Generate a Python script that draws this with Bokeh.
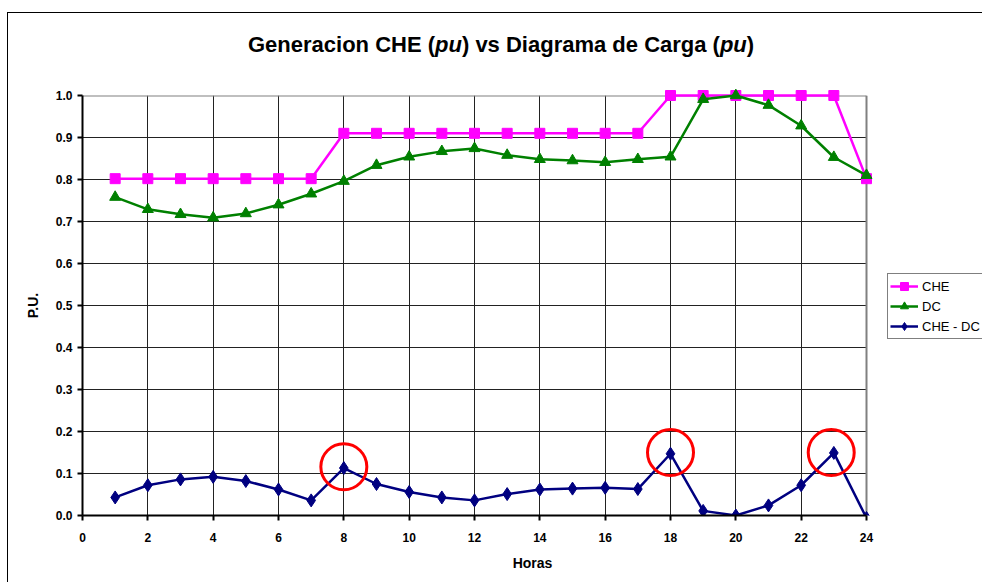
from bokeh.plotting import figure
from bokeh.models import (FixedTicker, PrintfTickFormatter, Legend, LegendItem, Div)
from bokeh.layouts import column
from bokeh.embed import file_html
from bokeh.resources import INLINE

# ---------------- data ----------------
hours = [1, 2, 3, 4, 5, 6, 7, 8, 9, 10, 11, 12, 13, 14, 15, 16, 17, 18, 19, 20, 21, 22, 23, 24]
che = [0.802, 0.802, 0.802, 0.802, 0.802, 0.802, 0.802, 0.910, 0.910, 0.910, 0.910, 0.910,
       0.910, 0.910, 0.910, 0.910, 0.910, 1.000, 1.000, 1.000, 1.000, 1.000, 1.000, 0.802]
dc = [0.758, 0.729, 0.717, 0.709, 0.719, 0.740, 0.766, 0.796, 0.834, 0.854, 0.867, 0.874,
      0.858, 0.848, 0.845, 0.841, 0.848, 0.854, 0.991, 1.000, 0.977, 0.928, 0.853, 0.810]
che_dc = [0.043, 0.072, 0.086, 0.092, 0.082, 0.062, 0.036, 0.113, 0.075, 0.056, 0.043, 0.036,
          0.051, 0.062, 0.064, 0.066, 0.063, 0.147, 0.011, 0.000, 0.024, 0.072, 0.149, -0.006]
highlight_hours = [8, 18, 22.92]
highlight_vals = [0.116, 0.150, 0.150]
x_ticks = [0, 2, 4, 6, 8, 10, 12, 14, 16, 18, 20, 22, 24]
y_ticks = [0.0, 0.1, 0.2, 0.3, 0.4, 0.5, 0.6, 0.7, 0.8, 0.9, 1.0]
series_names = ["CHE", "DC", "CHE - DC"]

FONT = "Liberation Sans"

# layout constants (pixels)
FIG_W, FIG_H = 974, 519
BORDER_L, BORDER_T, BORDER_B = 74, 32, 67
PLOT_W = 784                      # pixel width of the 0..24 hour span
X_MIN, X_MAX = x_ticks[0], x_ticks[-1]
frame_w = FIG_W - BORDER_L        # frame extends to the right edge (legend lives there)
x_end = X_MIN + (X_MAX - X_MIN) * frame_w / PLOT_W

p = figure(width=FIG_W, height=FIG_H, x_range=(X_MIN, x_end), y_range=(0, 1.0),
           output_backend="svg", toolbar_location=None,
           min_border_left=BORDER_L, min_border_right=0,
           min_border_top=BORDER_T, min_border_bottom=BORDER_B)
p.background_fill_color = "white"
p.border_fill_color = "white"
p.outline_line_color = None

# axes
for ax in (p.xaxis[0], p.yaxis[0]):
    ax.axis_line_color = "black"
    ax.axis_line_width = 2
    ax.major_tick_line_color = "black"
    ax.major_tick_line_width = 2
    ax.major_tick_out = 5
    ax.major_tick_in = 0
    ax.minor_tick_line_color = None
    ax.major_label_text_font = FONT
    ax.major_label_text_font_style = "bold"
    ax.major_label_text_font_size = "12px"
    ax.major_label_text_color = "black"
    ax.axis_label_text_font = FONT
    ax.axis_label_text_font_style = "bold"
    ax.axis_label_text_font_size = "14px"
    ax.axis_label_text_color = "black"

p.xaxis.ticker = FixedTicker(ticks=x_ticks)
p.xaxis.bounds = (X_MIN, X_MAX)
p.yaxis.ticker = FixedTicker(ticks=y_ticks)
p.yaxis.formatter = PrintfTickFormatter(format="%.1f")
p.xaxis.axis_label = "Horas"
p.yaxis.axis_label = "P.U."
p.xaxis.major_label_standoff = 12
p.yaxis.major_label_standoff = 5
p.xaxis.axis_label_standoff = 10
p.yaxis.axis_label_standoff = 12

# vertical grid lines (0..22, span the full y range)
p.xgrid.ticker = FixedTicker(ticks=x_ticks[:-1])
p.xgrid.grid_line_color = "#222222"
p.xgrid.grid_line_width = 1
# horizontal grid lines limited to the plot area
p.ygrid.visible = False
inner_y = y_ticks[1:-1]
p.segment(x0=[X_MIN] * len(inner_y), x1=[X_MAX] * len(inner_y), y0=inner_y, y1=inner_y,
          line_color="#222222", line_width=1)
# plot area border (top and right, grey)
p.segment(x0=[X_MIN, X_MAX], x1=[X_MAX, X_MAX], y0=[y_ticks[-1], y_ticks[0]],
          y1=[y_ticks[-1], y_ticks[-1]], line_color="#808080", line_width=2)

# series
l1 = p.line(hours, che, line_color="#FF00FF", line_width=2.5, level="overlay")
s1 = p.scatter(hours, che, marker="square", size=10, fill_color="#FF00FF",
               line_color="#FF00FF", level="overlay")
l2 = p.line(hours, dc, line_color="#008000", line_width=2.5, level="overlay")
s2 = p.scatter(hours, dc, marker="triangle", size=11, fill_color="#008000",
               line_color="#008000", level="overlay")
l3 = p.line(hours, che_dc, line_color="#000080", line_width=2.5)
s3 = p.scatter(hours, che_dc, marker="diamond", size=13, fill_color="#000080",
               line_color="#000080")

# red highlight circles
p.scatter(highlight_hours, highlight_vals, marker="circle", size=46,
          fill_color=None, line_color="#FF0000", line_width=3, level="overlay")

legend = Legend(items=[LegendItem(label=series_names[0], renderers=[l1, s1]),
                       LegendItem(label=series_names[1], renderers=[l2, s2]),
                       LegendItem(label=series_names[2], renderers=[l3, s3])],
                location=(805, 176))
legend.border_line_color = "black"
legend.border_line_width = 1
legend.background_fill_color = "white"
legend.background_fill_alpha = 1
legend.label_text_font = FONT
legend.label_text_font_size = "13px"
legend.label_text_color = "black"
legend.glyph_width = 28
legend.glyph_height = 20
legend.label_height = 20
legend.spacing = 0
legend.padding = 2
legend.margin = 0
legend.label_standoff = 4
p.add_layout(legend)

title_html = (
    '<div style="position:absolute; left:240px; top:21px; white-space:nowrap; '
    "font-family:'Liberation Sans', Arial, sans-serif; font-weight:bold; font-size:22px; "
    'line-height:22px; color:black;">'
    'Generacion CHE (<i>pu</i>) vs Diagrama de Carga (<i>pu</i>)</div>'
)
title_div = Div(text=title_html, width=974, height=50, margin=0,
                styles={"position": "relative", "background-color": "white"})

layout = column(title_div, p, margin=(12, 0, 0, 7),
                styles={"border-left": "1px solid black", "border-top": "1px solid black",
                        "background-color": "white"})

open("out.html", "w").write(file_html(layout, INLINE))
